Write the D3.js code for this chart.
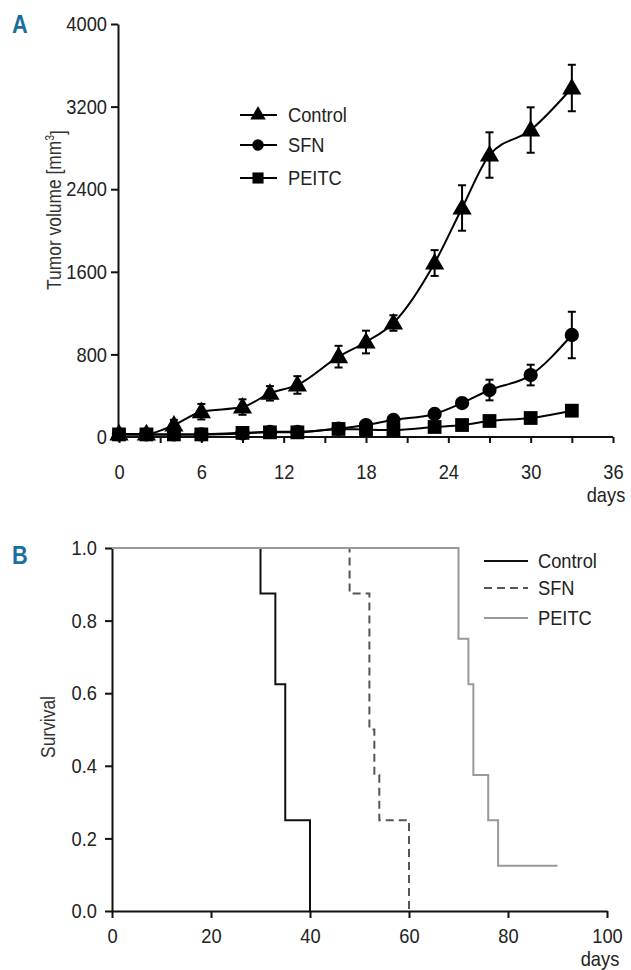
<!DOCTYPE html>
<html>
<head>
  <meta charset="utf-8">
  <title>Tumor volume and survival</title>
  <script src="https://d3js.org/d3.v7.min.js"></script>
  <style>
    body { margin: 0; background: #fff; }
    text { font-family: "Liberation Sans", Arial, sans-serif; fill: #222; }
  </style>
</head>
<body>
  <svg width="631" height="970"></svg>
  <script>
    // Panel A: tumor volume over time
    var tumorDays = [0, 2, 4, 6, 9, 11, 13, 16, 18, 20, 23, 25, 27, 30, 33];
    var controlVol = [30, 30, 116, 245, 290, 423, 504, 778, 920, 1104, 1685, 2218, 2731, 2973, 3380];
    var controlErr = [0, 0, 50, 75, 75, 70, 85, 105, 110, 75, 125, 220, 220, 220, 225];
    var sfnVol = [25, 25, 25, 25, 35, 50, 50, 80, 116, 165, 223, 329, 455, 600, 988];
    var sfnErr = [0, 0, 0, 0, 0, 0, 0, 0, 0, 0, 0, 40, 100, 100, 225];
    var peitcVol = [25, 25, 25, 25, 40, 45, 45, 78, 72, 68, 97, 116, 155, 184, 255];
    var peitcErr = [0, 0, 0, 0, 0, 0, 0, 0, 0, 0, 0, 0, 0, 0, 0];
    var volTicks = [0, 800, 1600, 2400, 3200, 4000];
    var dayTicksA = [0, 6, 12, 18, 24, 30, 36];

    // Panel B: Kaplan-Meier survival (step after each event)
    var controlSurvDays = [0, 30, 33, 35, 40];
    var controlSurv = [1, 0.875, 0.625, 0.25, 0];
    var sfnSurvDays = [0, 48, 52, 53, 54, 60];
    var sfnSurv = [1, 0.875, 0.5, 0.375, 0.25, 0];
    var peitcSurvDays = [0, 70, 72, 73, 76, 78, 90];
    var peitcSurv = [1, 0.75, 0.625, 0.375, 0.25, 0.125, 0.125];
    var survTicks = [0, 0.2, 0.4, 0.6, 0.8, 1.0];
    var dayTicksB = [0, 20, 40, 60, 80, 100];

    var svg = d3.select("svg");
    var fs = 21;      // tick + legend text
    var fsTitle = 20; // axis titles
    var squeeze = 0.87; // condensed look

    // ---------- Panel A ----------
    var xA = d3.scaleLinear().domain([0, 36]).range([119, 613]);
    var yA = d3.scaleLinear().domain([0, 4000]).range([437, 24]);

    var gA = svg.append("g");

    // x axis: minor ticks every 3 days, labels every 6
    var xAxisA = gA.append("g")
      .attr("transform", "translate(0,437)")
      .call(d3.axisBottom(xA).tickValues(d3.range(0, 37, 3)).tickSize(6).tickSizeOuter(0)
        .tickFormat(function(d) { return dayTicksA.indexOf(d) >= 0 ? d : ""; }));
    xAxisA.select(".domain").attr("d", "M118,0H613");

    var yAxisA = gA.append("g")
      .attr("transform", "translate(118,0)")
      .call(d3.axisLeft(yA).tickValues(volTicks).tickSize(7).tickSizeOuter(0).tickFormat(d3.format("d")));

    [xAxisA, yAxisA].forEach(function(ax) {
      ax.selectAll("path, line").attr("stroke", "#111").attr("stroke-width", 2);
      ax.selectAll("text").style("font-size", fs + "px").attr("fill", "#222");
    });
    xAxisA.selectAll("text").attr("y", 27);
    yAxisA.selectAll("text").attr("x", -11);

    gA.append("text").attr("x", 606).attr("y", 495).attr("dy", "0.35em")
      .attr("text-anchor", "middle").style("font-size", fs + "px").text("days");

    var titleA = gA.append("text").attr("class", "noSqueeze")
      .attr("transform", "translate(54,210) rotate(-90) scale(" + squeeze + ",1)")
      .attr("text-anchor", "middle").attr("dy", "0.35em")
      .style("font-size", fsTitle + "px").style("fill", "#333");
    titleA.append("tspan").text("Tumor volume [mm");
    titleA.append("tspan").attr("dy", "-0.55em").style("font-size", "12px").text("3");
    titleA.append("tspan").attr("dy", "0.55em").text("]");

    gA.append("text").attr("x", 12).attr("y", 33)
      .style("font-size", "25px").style("font-weight", "bold").style("fill", "#1b6f9e").text("A");

    var seriesA = [
      { name: "Control", vol: controlVol, err: controlErr, sym: d3.symbolTriangle, size: 160 },
      { name: "SFN", vol: sfnVol, err: sfnErr, sym: d3.symbolCircle, size: 160 },
      { name: "PEITC", vol: peitcVol, err: peitcErr, sym: d3.symbolSquare, size: 190 }
    ];

    var lineA = d3.line()
      .x(function(d) { return xA(d.day); })
      .y(function(d) { return yA(d.v); })
      .curve(d3.curveMonotoneX);

    seriesA.forEach(function(s) {
      var pts = tumorDays.map(function(day, i) { return { day: day, v: s.vol[i], e: s.err[i] }; });
      var g = gA.append("g");
      g.append("path").datum(pts).attr("d", lineA)
        .attr("fill", "none").attr("stroke", "#000").attr("stroke-width", 2);
      var eb = g.selectAll(".eb").data(pts.filter(function(p) { return p.e > 0; })).enter().append("g");
      eb.append("line")
        .attr("x1", function(d) { return xA(d.day); }).attr("x2", function(d) { return xA(d.day); })
        .attr("y1", function(d) { return yA(d.v - d.e); }).attr("y2", function(d) { return yA(d.v + d.e); })
        .attr("stroke", "#000").attr("stroke-width", 2);
      [1, -1].forEach(function(sg) {
        eb.append("line")
          .attr("x1", function(d) { return xA(d.day) - 4; }).attr("x2", function(d) { return xA(d.day) + 4; })
          .attr("y1", function(d) { return yA(d.v + sg * d.e); }).attr("y2", function(d) { return yA(d.v + sg * d.e); })
          .attr("stroke", "#000").attr("stroke-width", 2);
      });
      g.selectAll(".m").data(pts).enter().append("path")
        .attr("transform", function(d) { return "translate(" + xA(d.day) + "," + (yA(d.v) + (s.sym === d3.symbolTriangle ? 1 : 0)) + ")"; })
        .attr("d", d3.symbol().type(s.sym).size(s.size))
        .attr("fill", "#000");
    });

    // legend A
    var legA = [115, 145, 178];
    seriesA.forEach(function(s, i) {
      var g = gA.append("g").attr("transform", "translate(0," + legA[i] + ")");
      g.append("line").attr("x1", 240).attr("x2", 277).attr("stroke", "#000").attr("stroke-width", 2);
      g.append("path").attr("transform", "translate(258,0)")
        .attr("d", d3.symbol().type(s.sym).size(s.size * 0.65)).attr("fill", "#000");
      g.append("text").attr("x", 288).attr("dy", "0.35em").style("font-size", fs + "px").text(s.name);
    });

    // ---------- Panel B ----------
    var xB = d3.scaleLinear().domain([0, 100]).range([112, 607]);
    var yB = d3.scaleLinear().domain([0, 1]).range([911, 548]);

    var gB = svg.append("g");

    var xAxisB = gB.append("g").attr("transform", "translate(0,911)")
      .call(d3.axisBottom(xB).tickValues(dayTicksB).tickSize(7).tickSizeOuter(0));
    var yAxisB = gB.append("g").attr("transform", "translate(112,0)")
      .call(d3.axisLeft(yB).tickValues(survTicks).tickSize(7).tickSizeOuter(0)
        .tickFormat(d3.format(".1f")));

    [xAxisB, yAxisB].forEach(function(ax) {
      ax.selectAll("path, line").attr("stroke", "#111").attr("stroke-width", 2);
      ax.selectAll("text").style("font-size", fs + "px").attr("fill", "#222");
    });
    xAxisB.selectAll("text").attr("y", 17);
    yAxisB.selectAll("text").attr("x", -15);

    gB.append("text").attr("x", 600).attr("y", 959).attr("dy", "0.35em")
      .attr("text-anchor", "middle").style("font-size", fs + "px").text("days");

    gB.append("text")
      .attr("transform", "translate(48,727) rotate(-90)")
      .attr("text-anchor", "middle").attr("dy", "0.35em")
      .style("font-size", fsTitle + "px").style("fill", "#333").text("Survival");

    gB.append("text").attr("x", 12).attr("y", 564)
      .style("font-size", "25px").style("font-weight", "bold").style("fill", "#1b6f9e").text("B");

    var seriesB = [
      { name: "Control", days: controlSurvDays, surv: controlSurv, color: "#111", dash: null },
      { name: "SFN", days: sfnSurvDays, surv: sfnSurv, color: "#555", dash: "8,5" },
      { name: "PEITC", days: peitcSurvDays, surv: peitcSurv, color: "#999", dash: null }
    ];

    var lineB = d3.line()
      .x(function(d) { return xB(d.day); })
      .y(function(d) { return yB(d.s); })
      .curve(d3.curveStepAfter);

    seriesB.forEach(function(s) {
      var pts = s.days.map(function(day, i) { return { day: day, s: s.surv[i] }; });
      gB.append("path").datum(pts).attr("d", lineB)
        .attr("fill", "none").attr("stroke", s.color).attr("stroke-width", 2)
        .attr("stroke-dasharray", s.dash);
    });

    var legB = [561, 588, 618];
    seriesB.forEach(function(s, i) {
      var g = gB.append("g").attr("transform", "translate(0," + legB[i] + ")");
      g.append("line").attr("x1", 484).attr("x2", 528)
        .attr("stroke", s.color).attr("stroke-width", 2).attr("stroke-dasharray", s.dash);
      g.append("text").attr("x", 538).attr("dy", "0.35em").style("font-size", fs + "px").text(s.name);
    });

    // narrow every label so it reads like the condensed face of the original
    svg.selectAll("text").each(function() {
      if (this.classList.contains("noSqueeze")) return;
      var len = this.getComputedTextLength();
      if (len > 0) {
        d3.select(this).attr("textLength", len * squeeze).attr("lengthAdjust", "spacingAndGlyphs");
      }
    });
  </script>
</body>
</html>
